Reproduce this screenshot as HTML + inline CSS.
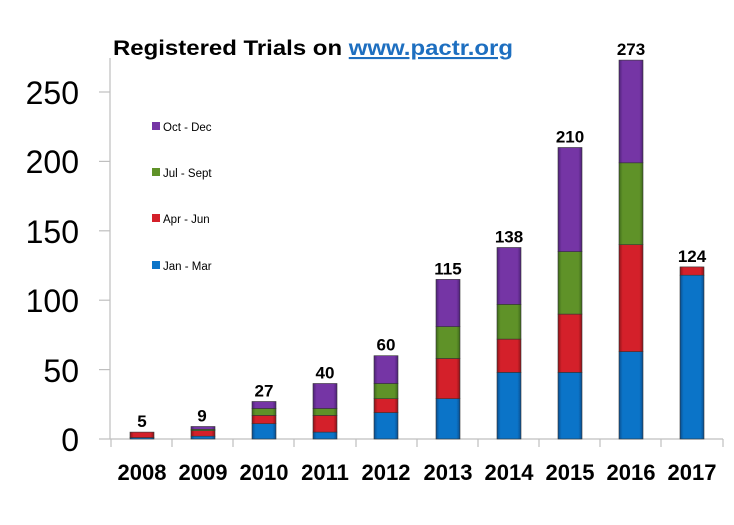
<!DOCTYPE html>
<html><head><meta charset="utf-8"><style>
html,body{margin:0;padding:0;background:#fff;}
svg{display:block;}
</style></head><body>
<svg width="734" height="525" viewBox="0 0 734 525" xmlns="http://www.w3.org/2000/svg" font-family="Liberation Sans, sans-serif">
<defs>
<linearGradient id="gb" x1="0" x2="1"><stop offset="0" stop-color="#0a4f8f"/><stop offset="0.15" stop-color="#0b74c8"/><stop offset="0.85" stop-color="#0b74c8"/><stop offset="1" stop-color="#0a4f8f"/></linearGradient>
<linearGradient id="gr" x1="0" x2="1"><stop offset="0" stop-color="#8e1418"/><stop offset="0.15" stop-color="#d4202a"/><stop offset="0.85" stop-color="#d4202a"/><stop offset="1" stop-color="#8e1418"/></linearGradient>
<linearGradient id="gg" x1="0" x2="1"><stop offset="0" stop-color="#3e6a1a"/><stop offset="0.15" stop-color="#5f9228"/><stop offset="0.85" stop-color="#5f9228"/><stop offset="1" stop-color="#3e6a1a"/></linearGradient>
<linearGradient id="gp" x1="0" x2="1"><stop offset="0" stop-color="#4d2277"/><stop offset="0.15" stop-color="#7535a5"/><stop offset="0.85" stop-color="#7535a5"/><stop offset="1" stop-color="#4d2277"/></linearGradient>
</defs>
<text x="113" y="55" font-size="21" font-weight="bold" fill="#000" textLength="400" lengthAdjust="spacingAndGlyphs">Registered Trials on <tspan fill="#1e6fc0" text-decoration="underline">www.pactr.org</tspan></text>
<g stroke="#bfbfbf" stroke-width="1.2">
<line x1="110" y1="58" x2="110" y2="439"/>
<line x1="110" y1="439" x2="723" y2="439"/>
<line x1="99" y1="439" x2="110" y2="439"/>
<line x1="99" y1="369.6" x2="110" y2="369.6"/>
<line x1="99" y1="300.2" x2="110" y2="300.2"/>
<line x1="99" y1="230.8" x2="110" y2="230.8"/>
<line x1="99" y1="161.4" x2="110" y2="161.4"/>
<line x1="99" y1="92" x2="110" y2="92"/>
<line x1="111" y1="439" x2="111" y2="447"/><line x1="172" y1="439" x2="172" y2="447"/><line x1="233" y1="439" x2="233" y2="447"/><line x1="294" y1="439" x2="294" y2="447"/><line x1="356" y1="439" x2="356" y2="447"/><line x1="417" y1="439" x2="417" y2="447"/><line x1="478" y1="439" x2="478" y2="447"/><line x1="539" y1="439" x2="539" y2="447"/><line x1="600" y1="439" x2="600" y2="447"/><line x1="661" y1="439" x2="661" y2="447"/><line x1="723" y1="439" x2="723" y2="447"/>
</g>
<g font-size="32" fill="#000" text-anchor="end">
<text x="79" y="451">0</text><text x="79" y="382">50</text><text x="79" y="312">100</text><text x="79" y="243">150</text><text x="79" y="173">200</text><text x="79" y="104">250</text>
</g>
<g font-size="22" font-weight="bold" text-anchor="middle" fill="#000">
<text x="142" y="480">2008</text><text x="203" y="480">2009</text><text x="264" y="480">2010</text><text x="325" y="480">2011</text><text x="386" y="480">2012</text><text x="448" y="480">2013</text><text x="509" y="480">2014</text><text x="570" y="480">2015</text><text x="631" y="480">2016</text><text x="692" y="480">2017</text>
</g>
<g stroke="#333" stroke-width="0.6">
<rect x="130" y="437.6" width="24" height="1.4" fill="url(#gb)"/>
<rect x="130" y="432.1" width="24" height="5.5" fill="url(#gr)"/>
<rect x="191" y="436.2" width="24" height="2.8" fill="url(#gb)"/>
<rect x="191" y="430.7" width="24" height="5.5" fill="url(#gr)"/>
<rect x="191" y="429.3" width="24" height="1.4" fill="url(#gg)"/>
<rect x="191" y="426.5" width="24" height="2.8" fill="url(#gp)"/>
<rect x="252" y="423.7" width="24" height="15.3" fill="url(#gb)"/>
<rect x="252" y="415.4" width="24" height="8.3" fill="url(#gr)"/>
<rect x="252" y="408.5" width="24" height="6.9" fill="url(#gg)"/>
<rect x="252" y="401.5" width="24" height="7.0" fill="url(#gp)"/>
<rect x="313" y="432.1" width="24" height="6.9" fill="url(#gb)"/>
<rect x="313" y="415.4" width="24" height="16.7" fill="url(#gr)"/>
<rect x="313" y="408.5" width="24" height="6.9" fill="url(#gg)"/>
<rect x="313" y="383.5" width="24" height="25.0" fill="url(#gp)"/>
<rect x="374" y="412.6" width="24" height="26.4" fill="url(#gb)"/>
<rect x="374" y="398.7" width="24" height="13.9" fill="url(#gr)"/>
<rect x="374" y="383.5" width="24" height="15.2" fill="url(#gg)"/>
<rect x="374" y="355.7" width="24" height="27.8" fill="url(#gp)"/>
<rect x="436" y="398.7" width="24" height="40.3" fill="url(#gb)"/>
<rect x="436" y="358.5" width="24" height="40.2" fill="url(#gr)"/>
<rect x="436" y="326.6" width="24" height="31.9" fill="url(#gg)"/>
<rect x="436" y="279.4" width="24" height="47.2" fill="url(#gp)"/>
<rect x="497" y="372.4" width="24" height="66.6" fill="url(#gb)"/>
<rect x="497" y="339.1" width="24" height="33.3" fill="url(#gr)"/>
<rect x="497" y="304.4" width="24" height="34.7" fill="url(#gg)"/>
<rect x="497" y="247.5" width="24" height="56.9" fill="url(#gp)"/>
<rect x="558" y="372.4" width="24" height="66.6" fill="url(#gb)"/>
<rect x="558" y="314.1" width="24" height="58.3" fill="url(#gr)"/>
<rect x="558" y="251.6" width="24" height="62.5" fill="url(#gg)"/>
<rect x="558" y="147.5" width="24" height="104.1" fill="url(#gp)"/>
<rect x="619" y="351.6" width="24" height="87.4" fill="url(#gb)"/>
<rect x="619" y="244.7" width="24" height="106.9" fill="url(#gr)"/>
<rect x="619" y="162.8" width="24" height="81.9" fill="url(#gg)"/>
<rect x="619" y="60.1" width="24" height="102.7" fill="url(#gp)"/>
<rect x="680" y="275.2" width="24" height="163.8" fill="url(#gb)"/>
<rect x="680" y="266.9" width="24" height="8.3" fill="url(#gr)"/>
</g>
<g font-size="17" font-weight="bold" text-anchor="middle" fill="#000">
<text x="142" y="427">5</text><text x="202" y="421.5">9</text><text x="264" y="396.5">27</text><text x="325" y="378.5">40</text><text x="386" y="350.7">60</text><text x="448" y="274.4">115</text><text x="509" y="242.5">138</text><text x="570" y="142.5">210</text><text x="631" y="55">273</text><text x="692" y="262">124</text>
</g>
<g font-size="11.5" fill="#000">
<rect x="152" y="122" width="8" height="8" fill="#7535a5"/><text x="163" y="131">Oct - Dec</text>
<rect x="152" y="168" width="8" height="8" fill="#5f9228"/><text x="163" y="177">Jul - Sept</text>
<rect x="152" y="214" width="8" height="8" fill="#d4202a"/><text x="163" y="223">Apr - Jun</text>
<rect x="152" y="261" width="8" height="8" fill="#0b74c8"/><text x="163" y="270">Jan - Mar</text>
</g>
</svg>
</body></html>
